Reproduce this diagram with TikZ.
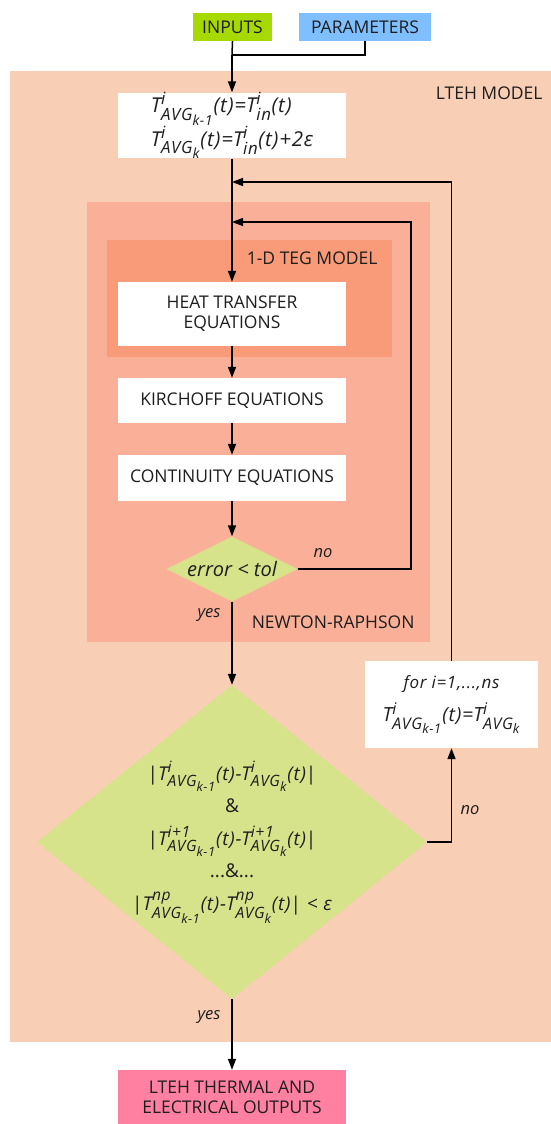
\documentclass[tikz,border=0pt]{standalone}
\usepackage{amsmath}
\usepackage{fontspec}
\setmainfont{Open Sans}
\newfontfamily\mitfont[LetterSpace=4]{Open Sans}
\usetikzlibrary{arrows.meta,shapes.geometric}
\renewcommand\defaultscriptratio{.82}
\renewcommand\defaultscriptscriptratio{.68}
\definecolor{lteh}{RGB}{248,206,181}
\definecolor{nrc}{RGB}{250,176,152}
\definecolor{tegc}{RGB}{249,154,120}
\definecolor{dia}{RGB}{214,227,138}
\definecolor{inp}{RGB}{166,217,0}
\definecolor{parc}{RGB}{128,191,255}
\definecolor{outc}{RGB}{255,128,160}
\definecolor{txt}{RGB}{30,30,30}
\newcommand{\ti}[1]{\text{\mitfont\itshape #1}}
\newcommand{\Tavg}[2]{\ti{T}^{\ti{#1}}_{\ti{AVG}_{\ti{#2}}}}
\newcommand{\Tin}{\ti{T}^{\ti{i}}_{\ti{in}}}
\begin{document}
\begin{tikzpicture}[x=1pt,y=-1pt,
  every node/.style={text=txt, font=\fontsize{17.5}{20}\selectfont},
  box/.style={fill=white, inner sep=0pt, align=center, minimum width=228},
  arr/.style={line width=1.5pt, draw=black, -{Triangle[length=11pt,width=8pt]}},
  ln/.style={line width=1.5pt, draw=black},
  lbl/.style={font=\fontsize{16.5}{19}\selectfont\itshape},
  dbox/.style={diamond, fill=dia, inner sep=0pt}
]
\useasboundingbox (0,0) rectangle (551,1124);
% background regions
\fill[lteh] (10,71) rectangle (551,1042);
\fill[nrc] (87,202) rectangle (430,642);
\fill[tegc] (107,240) rectangle (392,357);
\node[anchor=east] (ltehT) at (546,93) {LTEH MODEL};
\node[anchor=east] (tegT) at (381,258) {1-D TEG MODEL};
\node[anchor=east] (nrT) at (418,622) {NEWTON-RAPHSON};
% nodes
\node[fill=inp, minimum width=79, minimum height=28, inner sep=0pt] (inputs) at (232.5,27) {INPUTS};
\node[fill=parc, minimum width=132, minimum height=28, inner sep=0pt] (params) at (365,27) {PARAMETERS};
\node[box, minimum height=62, align=left, font=\fontsize{20.5}{22}\selectfont] (init) at (232,125.5)
  {$\Tavg{i}{k-1}\ti{(t)=}\Tin\ti{(t)}$\\ $\Tavg{i}{k}\ti{(t)=}\Tin\ti{(t)+2ε}$};
\node[box, minimum height=64] (heat) at (232,314) {HEAT TRANSFER\\EQUATIONS};
\node[box, minimum height=45] (kirch) at (232,400.5) {KIRCHOFF EQUATIONS};
\node[box, minimum height=46] (cont) at (232,478) {CONTINUITY EQUATIONS};
\node[dbox, minimum width=131, minimum height=65] (err) at (232,569) {};
\node[font=\fontsize{20}{22}\selectfont\itshape] (errT) at (err.center) {error < tol};
\node[dbox, minimum width=390, minimum height=314] (conv) at (232,842) {};
\node[align=center, font=\fontsize{19}{32.5}\selectfont] (convT) at (232,842)
  {$\textup{|}\Tavg{i}{k-1}\ti{(t)-}\Tavg{i}{k}\ti{(t)}\textup{|}$\\
   \&\\
   $\textup{|}\Tavg{i+1}{k-1}\ti{(t)-}\Tavg{i+1}{k}\ti{(t)}\textup{|}$\\
   ...\&...\\
   $\textup{|}\Tavg{np}{k-1}\ti{(t)-}\Tavg{np}{k}\ti{(t)}\textup{|}\ti{ < ε}$};
\node[box, minimum width=173, minimum height=87, font=\fontsize{17}{33}\selectfont] (loop) at (451.5,704.5)
  {\ti{for i=1,...,ns}\\ \fontsize{19.5}{33}\selectfont$\Tavg{i}{k-1}\ti{(t)=}\Tavg{i}{k}$};
\node[box, fill=outc, minimum height=54] (out) at (232,1097) {LTEH THERMAL AND\\ELECTRICAL OUTPUTS};
% labels
\node[lbl] (no1) at (323,553) {no};
\node[lbl] (yes1) at (209,615) {yes};
\node[lbl] (no2) at (470,810) {no};
\node[lbl] (yes2) at (209,1017) {yes};
% connectors
\coordinate (j) at (232,55);
\coordinate (m1) at (232,182);
\coordinate (m2) at (232,222);
\coordinate (c2) at (411,222);
\draw[ln] (inputs.south) -- (j);
\draw[ln] (params.south) |- (j);
\draw[arr] (j) -- (init.north);
\draw[arr] (init.south) -- (heat.north);
\draw[arr] (heat.south) -- (kirch.north);
\draw[arr] (kirch.south) -- (cont.north);
\draw[arr] (cont.south) -- (err.north);
\draw[arr] (err.east) -| (c2) -- (m2);
\draw[arr] (err.south) -- (conv.north);
\draw[arr] (conv.east) -| (loop.south);
\draw[arr] (loop.north) |- (m1);
\draw[arr] (conv.south) -- (out.north);
\end{tikzpicture}
\end{document}
